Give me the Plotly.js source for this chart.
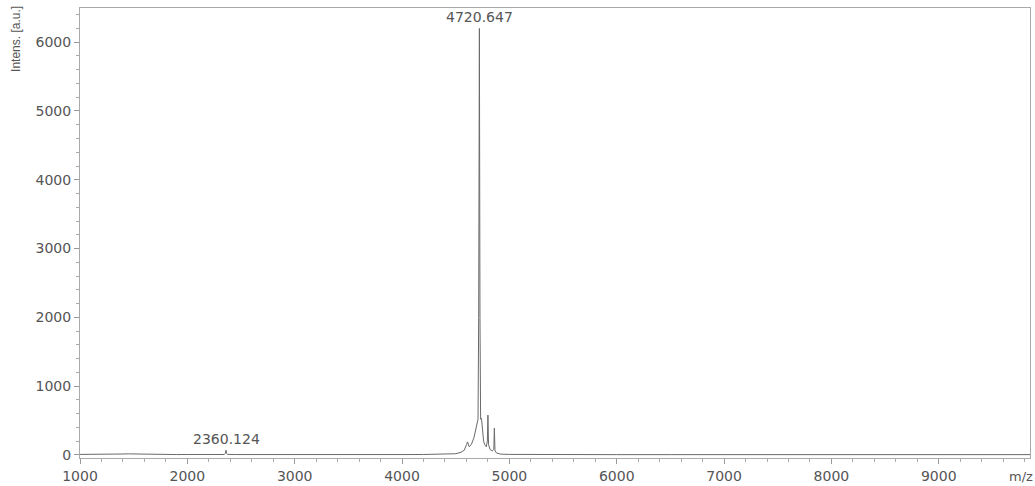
<!DOCTYPE html>
<html>
<head>
<meta charset="utf-8">
<script src="https://cdn.plot.ly/plotly-3.0.1.min.js"></script>
<style>html,body{margin:0;padding:0;background:#fff;}#chart{width:1035px;height:486px;}</style>
</head>
<body>
<div id="chart"></div>
<script>
// m/z values of the spectrum trace
const mz = [1000, 1100, 1200, 1300, 1350, 1400, 1450, 1500, 1550, 1600, 1700, 1800, 1900, 2000, 2100, 2200, 2300, 2345, 2355, 2360.124, 2365, 2375, 2450, 2600, 2800, 3000, 3200, 3400, 3600, 3800, 4000, 4200, 4400, 4500, 4550, 4580, 4600, 4610, 4625, 4645, 4670, 4690, 4700, 4708, 4714, 4720.647, 4726, 4732, 4740, 4750, 4760, 4770, 4785, 4795, 4800, 4806, 4820, 4840, 4855, 4860, 4866, 4880, 4920, 5000, 5200, 5500, 6000, 6500, 7000, 7500, 8000, 8500, 9000, 9500, 9850];
// intensities [a.u.]
const intens = [8, 7, 9, 12, 15, 14, 16, 14, 12, 10, 8, 7, 6, 7, 6, 6, 6, 7, 25, 70, 22, 8, 6, 5, 5, 5, 5, 5, 5, 5, 6, 7, 10, 18, 40, 70, 150, 190, 120, 150, 250, 380, 450, 520, 2000, 6200, 2000, 520, 530, 350, 200, 150, 120, 200, 580, 150, 80, 60, 80, 390, 60, 30, 12, 8, 6, 5, 5, 5, 5, 5, 5, 5, 5, 5, 5];
// labelled peaks
const peakMz = [4720.647, 2360.124];
const peakInt = [6200, 70];
const peakLabels = ["4720.647", "2360.124"];
const xTicks = [1000, 2000, 3000, 4000, 5000, 6000, 7000, 8000, 9000];
const yTicks = [0, 1000, 2000, 3000, 4000, 5000, 6000];

const FONT = 'DejaVu Sans, Liberation Sans, Arial, sans-serif';

const trace = {
  x: mz, y: intens, type: 'scatter', mode: 'lines',
  line: {color: '#6a6a6a', width: 1}, hoverinfo: 'skip'
};

const annotations = peakMz.map((m, i) => ({
  x: m, y: peakInt[i], xref: 'x', yref: 'y', text: peakLabels[i],
  showarrow: false, yanchor: 'bottom', yshift: 1,
  font: {family: FONT, size: 14, color: '#555'}
}));
annotations.push({
  xref: 'paper', yref: 'paper', x: -0.068, y: 1.01, xanchor: 'center', yanchor: 'top',
  text: 'Intens. [a.u.]', textangle: -90, showarrow: false,
  font: {family: 'Liberation Sans Narrow, Liberation Sans, Arial, sans-serif', size: 12, color: '#555'}
});
annotations.push({
  xref: 'paper', yref: 'paper', x: 0.99, y: -0.04, xanchor: 'center', yanchor: 'middle',
  text: 'm/z', showarrow: false,
  font: {family: FONT, size: 13, color: '#555'}
});

const layout = {
  width: 1035, height: 486,
  margin: {l: 80, r: 5, t: 8, b: 28},
  paper_bgcolor: '#fff', plot_bgcolor: '#fff',
  showlegend: false,
  xaxis: {
    range: [1000, 9850], tickvals: xTicks, ticktext: xTicks.map(String),
    showgrid: false, zeroline: false, showline: true, linecolor: '#aaa', linewidth: 1,
    mirror: true, ticks: 'outside', ticklen: 5, tickcolor: '#999',
    minor: {ticks: 'outside', dtick: 200, ticklen: 3, tickcolor: '#aaa', showgrid: false},
    tickfont: {family: FONT, size: 14, color: '#555'}
  },
  yaxis: {
    range: [-44, 6497], tickvals: yTicks, ticktext: yTicks.map(String),
    showgrid: false, zeroline: false, showline: true, linecolor: '#aaa', linewidth: 1,
    mirror: true, ticks: 'outside', ticklen: 5, tickcolor: '#999',
    minor: {ticks: 'outside', dtick: 200, ticklen: 3, tickcolor: '#aaa', showgrid: false},
    tickfont: {family: FONT, size: 14, color: '#555'}
  },
  annotations: annotations
};

Plotly.newPlot('chart', [trace], layout, {displayModeBar: false, staticPlot: true});
</script>
</body>
</html>
